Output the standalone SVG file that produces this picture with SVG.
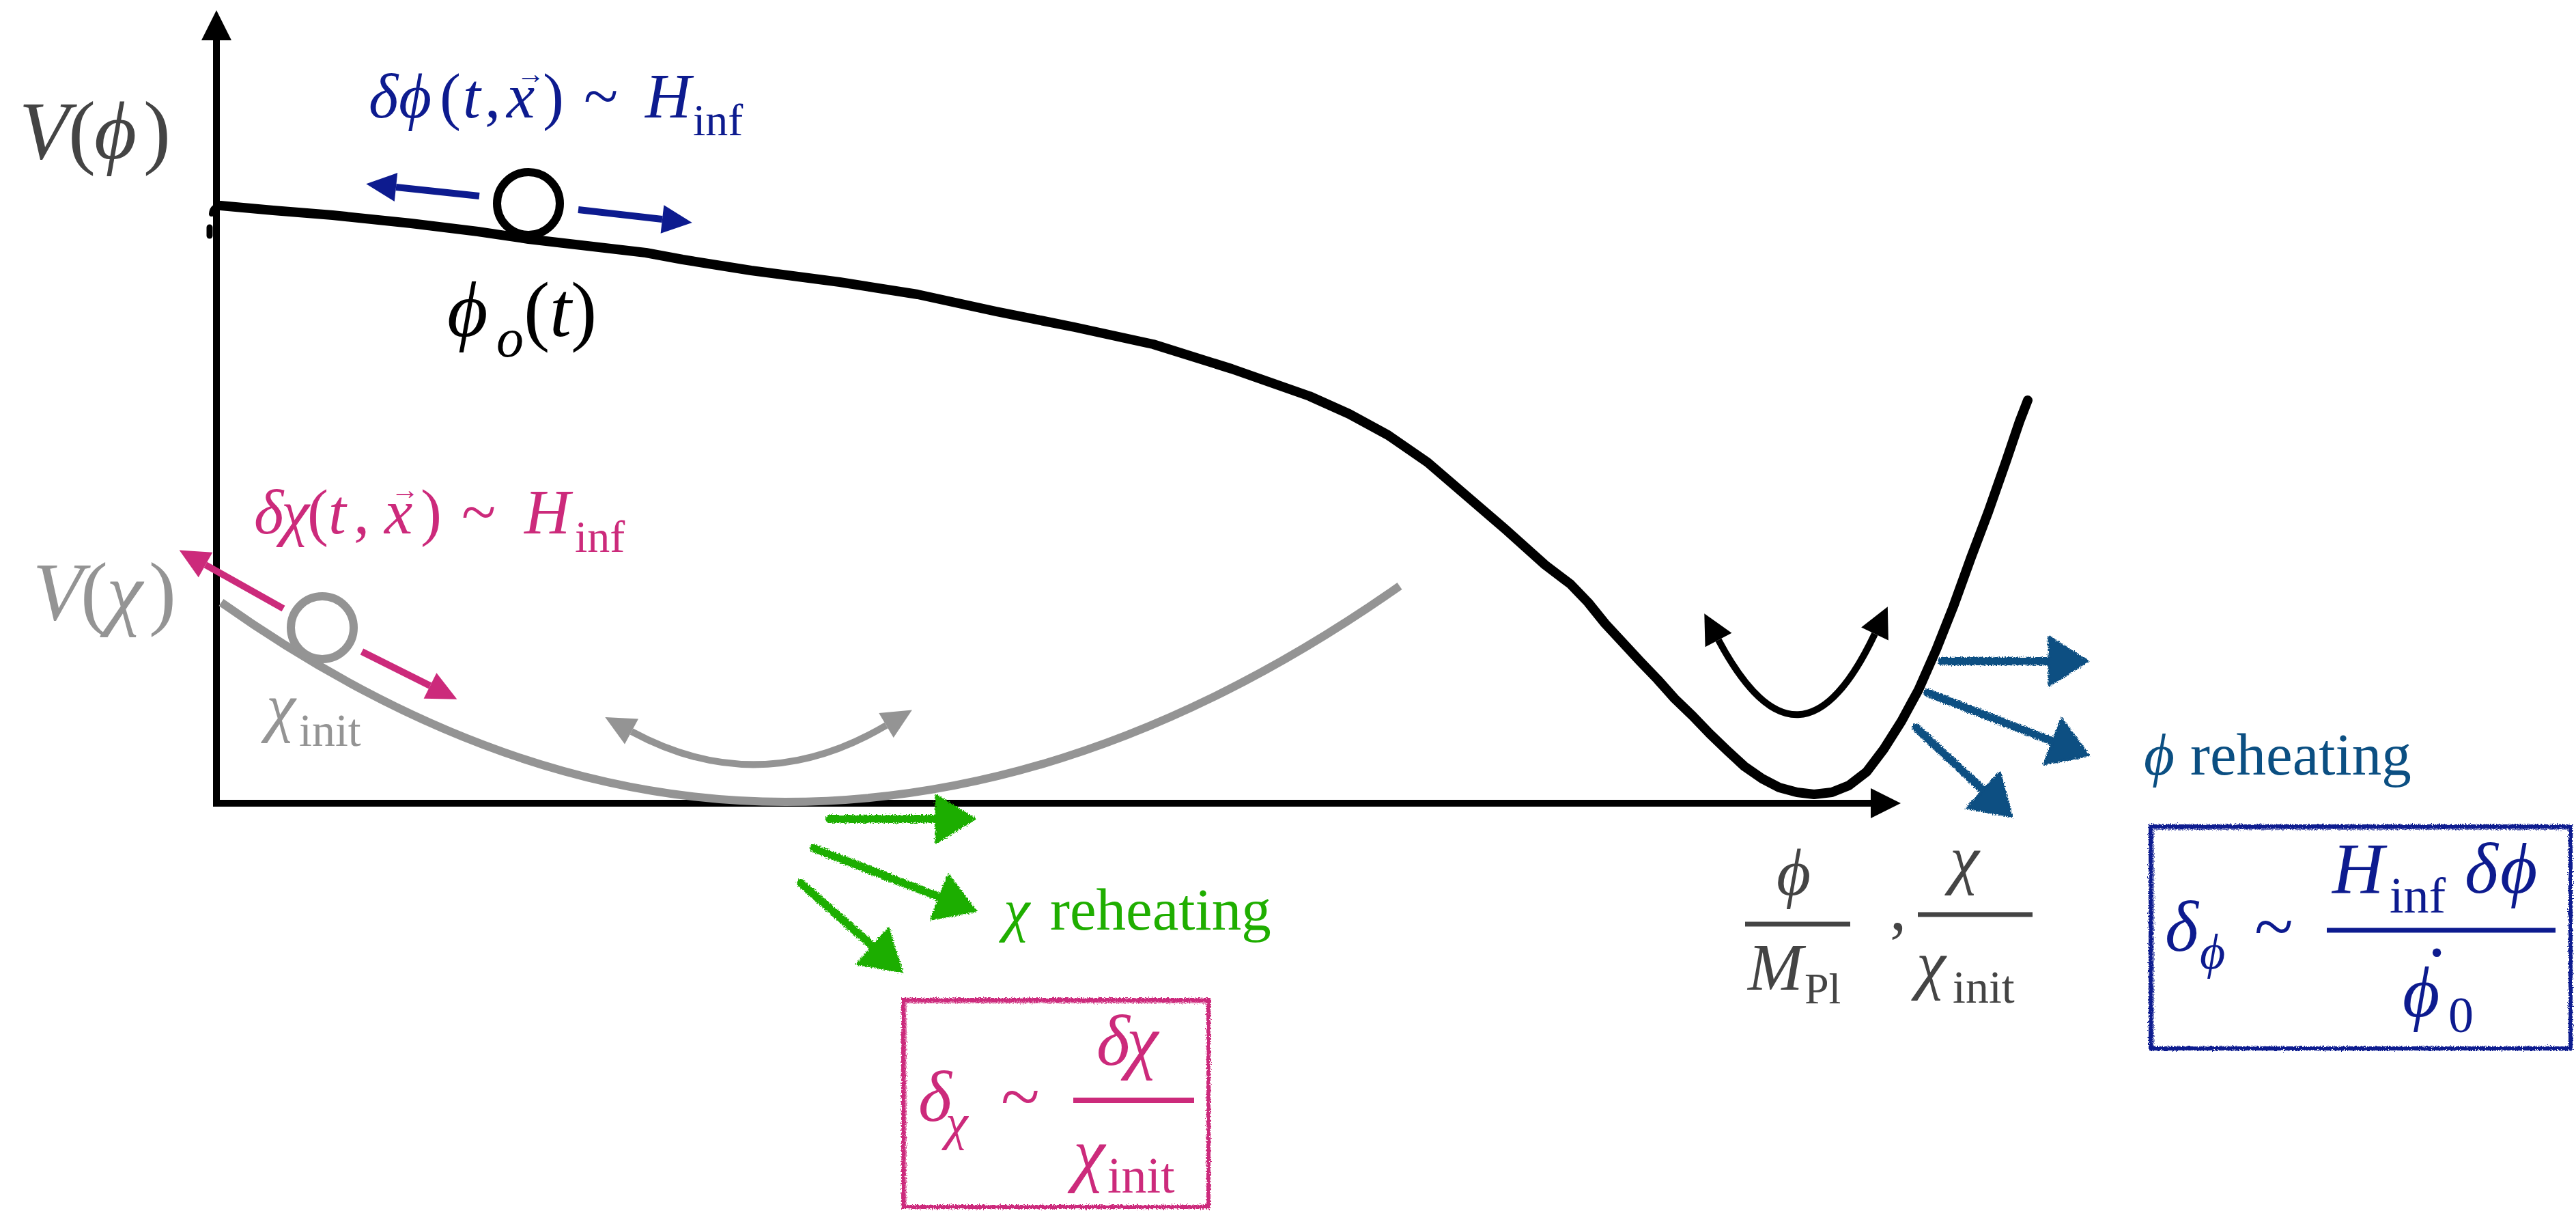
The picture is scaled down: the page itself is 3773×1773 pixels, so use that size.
<svg xmlns="http://www.w3.org/2000/svg" width="3773" height="1773" viewBox="0 0 3773 1773">
<style>
.m{font-family:"Liberation Serif","Times New Roman","DejaVu Serif",serif;}
.i{font-style:italic;}
.u{font-style:normal;}
.curve{fill:none;stroke-linejoin:round;}
</style>
<defs>
<filter id="chalk" filterUnits="userSpaceOnUse" x="0" y="0" width="3773" height="1773">
<feTurbulence type="fractalNoise" baseFrequency="0.55" numOctaves="2" seed="4" result="n"/>
<feDisplacementMap in="SourceGraphic" in2="n" scale="7" xChannelSelector="R" yChannelSelector="G"/>
</filter>
<marker id="hBlack" viewBox="-1 -23 46 46" refX="0" refY="0" markerWidth="46" markerHeight="46" markerUnits="userSpaceOnUse" orient="auto-start-reverse"><path d="M0,-22 L44,0 L0,22 z" fill="#000"/></marker>
<marker id="hNavy" viewBox="-1 -23 46 46" refX="0" refY="0" markerWidth="46" markerHeight="46" markerUnits="userSpaceOnUse" orient="auto-start-reverse"><path d="M0,-21 L44,0 L0,21 z" fill="#0d1b8f"/></marker>
<marker id="hPink" viewBox="-1 -23 46 46" refX="0" refY="0" markerWidth="46" markerHeight="46" markerUnits="userSpaceOnUse" orient="auto-start-reverse"><path d="M0,-21 L44,0 L0,21 z" fill="#cc2a7b"/></marker>
<marker id="hGray" viewBox="-1 -23 46 46" refX="0" refY="0" markerWidth="46" markerHeight="46" markerUnits="userSpaceOnUse" orient="auto-start-reverse"><path d="M0,-21 L44,0 L0,21 z" fill="#949494"/></marker>
<marker id="cGreen" viewBox="-23 -38 62 76" refX="0" refY="0" markerWidth="62" markerHeight="76" markerUnits="userSpaceOnUse" orient="auto"><path d="M-21,-35 L36,0 L-21,35 z" fill="#1fae00" stroke="#1fae00" stroke-width="3" stroke-linejoin="round"/></marker>
<marker id="cTeal" viewBox="-23 -38 62 76" refX="0" refY="0" markerWidth="62" markerHeight="76" markerUnits="userSpaceOnUse" orient="auto"><path d="M-21,-36 L36,0 L-21,36 z" fill="#0b4f82" stroke="#0b4f82" stroke-width="3" stroke-linejoin="round"/></marker>
</defs>
<rect width="3773" height="1773" fill="#fff"/>

<g id="connectors">
<path id="axes" d="M317,59 V1176 H2740" fill="none" stroke="#000" stroke-width="10" stroke-linejoin="miter" marker-start="url(#hBlack)" marker-end="url(#hBlack)"/>
<line x1="702" y1="287" x2="580" y2="274" stroke="#0d1b8f" stroke-width="10" marker-end="url(#hNavy)"/>
<line x1="847" y1="307" x2="970" y2="321" stroke="#0d1b8f" stroke-width="10" marker-end="url(#hNavy)"/>
<line x1="415" y1="891" x2="301" y2="827" stroke="#cc2a7b" stroke-width="10" marker-end="url(#hPink)"/>
<line x1="530" y1="954" x2="630" y2="1004" stroke="#cc2a7b" stroke-width="10" marker-end="url(#hPink)"/>
<path d="M925,1071 Q1112,1172 1298,1062" fill="none" stroke="#949494" stroke-width="10" marker-start="url(#hGray)" marker-end="url(#hGray)"/>
<path d="M2517,937 Q2636,1160 2746,928" fill="none" stroke="#000" stroke-width="10" marker-start="url(#hBlack)" marker-end="url(#hBlack)"/>
<g filter="url(#chalk)" stroke-width="12" stroke-linecap="round">
<line x1="1215" y1="1199" x2="1392" y2="1199" stroke="#1fae00" marker-end="url(#cGreen)"/>
<line x1="1192" y1="1242" x2="1396" y2="1321" stroke="#1fae00" marker-end="url(#cGreen)"/>
<line x1="1173" y1="1293" x2="1294" y2="1399" stroke="#1fae00" marker-end="url(#cGreen)"/>
<line x1="2844" y1="968" x2="3022" y2="968" stroke="#0b4f82" marker-end="url(#cTeal)"/>
<line x1="2823" y1="1014" x2="3026" y2="1093" stroke="#0b4f82" marker-end="url(#cTeal)"/>
<line x1="2806" y1="1065" x2="2920" y2="1171" stroke="#0b4f82" marker-end="url(#cTeal)"/>
</g>
</g>

<g id="potential-phi">
<path class="curve" stroke="#000" stroke-width="14" stroke-linecap="round" d="M323,301 L400,308 L487,315 L602,327 L700,339 L774,350 L860,360 L946,370 L1000,380 L1100,396 L1230,413 L1344,431 L1459,456 L1574,479 L1689,504 L1804,540 L1918,580 L1976,606 L2033,637 L2091,677 L2148,726 L2205,775 L2263,827 L2300,855 L2326,882 L2351,913 L2377,941 L2402,968 L2428,995 L2453,1023 L2479,1048 L2504,1074 L2530,1099 L2555,1122 L2581,1140 L2606,1153 L2632,1160 L2657,1163 L2683,1160 L2708,1150 L2734,1130 L2759,1097 L2785,1056 L2810,1010 L2836,951 L2861,888 L2887,816 L2912,750 L2938,676 L2958,617 L2970,586"/>
<path d="M325,301 Q311,301 310,313" fill="none" stroke="#000" stroke-width="8" stroke-linecap="round"/>
<line x1="307" y1="333" x2="307" y2="345" stroke="#000" stroke-width="9" stroke-linecap="round"/>
</g>

<g id="potential-chi">
<path class="curve" stroke="#949494" stroke-width="12" d="M324,882 Q737,1174 1150,1174 Q1600,1174 2050,858"/>
</g>

<g id="ball-phi"><circle cx="774" cy="298" r="46" fill="#fff" stroke="#000" stroke-width="12"/></g>
<g id="ball-chi"><circle cx="472" cy="919" r="46" fill="#fff" stroke="#949494" stroke-width="12"/></g>

<g id="label-Vphi" class="m" fill="#444">
<text font-size="120" y="232"><tspan class="i" x="28">V</tspan><tspan x="100">(</tspan><tspan class="i" x="138">ϕ</tspan><tspan x="210">)</tspan></text>
</g>

<g id="label-Vchi" class="m" fill="#949494">
<text font-size="120" y="907"><tspan class="i" x="48">V</tspan><tspan x="118">(</tspan><tspan class="i" x="156">χ</tspan><tspan x="218">)</tspan></text>
</g>

<g id="label-dphi" class="m" fill="#0d1b8f">
<text font-size="93" y="172"><tspan class="i" x="540">δ</tspan><tspan class="i" x="584">ϕ</tspan><tspan x="644">(</tspan><tspan class="i" x="678">t</tspan><tspan x="710">,</tspan><tspan class="i" x="742">x</tspan><tspan x="756" dy="-50" font-size="42">→</tspan><tspan x="795" dy="50">)</tspan><tspan x="855">~</tspan><tspan class="i" x="945">H</tspan><tspan x="1015" dy="26" font-size="66">inf</tspan></text>
</g>

<g id="label-phi0" class="m" fill="#000">
<text font-size="115" y="492"><tspan class="i" x="655">ϕ</tspan><tspan class="i" x="727" font-size="80" dy="30">o</tspan><tspan x="767" dy="-30">(</tspan><tspan class="i" x="805">t</tspan><tspan x="836">)</tspan></text>
</g>

<g id="label-dchi" class="m" fill="#cc2a7b">
<text font-size="93" y="781"><tspan class="i" x="372">δ</tspan><tspan class="i" x="412">χ</tspan><tspan x="450">(</tspan><tspan class="i" x="481">t</tspan><tspan x="518">,</tspan><tspan class="i" x="563">x</tspan><tspan x="572" dy="-50" font-size="42">→</tspan><tspan x="616" dy="50">)</tspan><tspan x="676">~</tspan><tspan class="i" x="768">H</tspan><tspan x="842" dy="27" font-size="66">inf</tspan></text>
</g>

<g id="label-chiinit" class="m" fill="#949494">
<text font-size="97" y="1067"><tspan class="i" x="390">χ</tspan><tspan x="438" font-size="68" dy="25">init</tspan></text>
</g>

<g id="label-xaxis" class="m" fill="#444">
<text font-size="97" class="i" x="2602" y="1310">ϕ</text>
<line x1="2556" y1="1353" x2="2710" y2="1353" stroke="#444" stroke-width="7"/>
<text font-size="97" y="1449"><tspan class="i" x="2560">M</tspan><tspan x="2643" dy="20" font-size="64">Pl</tspan></text>
<text font-size="97" x="2768" y="1361">,</text>
<text font-size="97" class="i" x="2856" y="1290">χ</text>
<line x1="2809" y1="1339" x2="2977" y2="1339" stroke="#444" stroke-width="7"/>
<text font-size="97" y="1444"><tspan class="i" x="2807">χ</tspan><tspan x="2860" dy="24" font-size="68">init</tspan></text>
</g>

<g id="label-chi-reheating" class="m" fill="#1fae00">
<text font-size="87" y="1361"><tspan class="i" x="1470">χ</tspan><tspan x="1538">reheating</tspan></text>
</g>

<g id="label-phi-reheating" class="m" fill="#0b4f82">
<text font-size="87" y="1134"><tspan class="i" x="3140">ϕ</tspan><tspan x="3208">reheating</tspan></text>
</g>

<g id="box-chi" class="m" fill="#cc2a7b">
<g filter="url(#chalk)" fill="none" stroke="#cc2a7b">
<rect x="1323" y="1464" width="447" height="303" stroke-width="6"/>
<rect x="1327" y="1468" width="441" height="297" stroke-width="2" opacity="0.6"/>
</g>
<text font-size="105" y="1641"><tspan class="i" x="1345">δ</tspan><tspan class="i" x="1385" dy="27" font-size="74">χ</tspan><tspan x="1466" dy="-27">~</tspan></text>
<line x1="1572" y1="1611" x2="1749" y2="1611" stroke="#cc2a7b" stroke-width="8"/>
<text font-size="105" class="i" y="1559"><tspan x="1606">δ</tspan><tspan x="1650">χ</tspan></text>
<text font-size="105" y="1724"><tspan class="i" x="1572">χ</tspan><tspan x="1622" dy="22" font-size="74">init</tspan></text>
</g>

<g id="box-phi" class="m" fill="#0d1b8f">
<g filter="url(#chalk)" fill="none" stroke="#0d1b8f">
<rect x="3150" y="1210" width="615" height="325" stroke-width="6"/>
<rect x="3154" y="1214" width="609" height="319" stroke-width="2" opacity="0.6"/>
</g>
<text font-size="105" y="1392"><tspan class="i" x="3171">δ</tspan><tspan class="i" x="3222" dy="26" font-size="72">ϕ</tspan><tspan x="3302" dy="-26">~</tspan></text>
<line x1="3408" y1="1362" x2="3743" y2="1362" stroke="#0d1b8f" stroke-width="7"/>
<text font-size="105" y="1307"><tspan class="i" x="3416">H</tspan><tspan x="3500" dy="29" font-size="74">inf</tspan><tspan class="i" x="3610" dy="-29">δ</tspan><tspan class="i" x="3662">ϕ</tspan></text>
<text font-size="105" y="1488"><tspan class="i" x="3519">ϕ</tspan><tspan x="3556" dy="-88">.</tspan><tspan x="3586" dy="111" font-size="74">0</tspan></text>
</g>
</svg>
